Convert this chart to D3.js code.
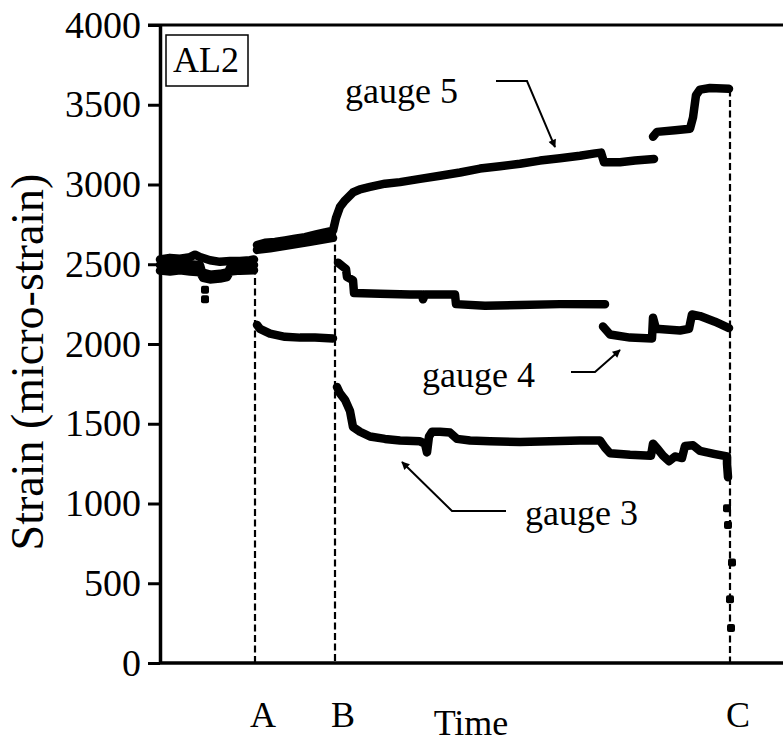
<!DOCTYPE html>
<html>
<head>
<meta charset="utf-8">
<script src="https://cdn.jsdelivr.net/npm/d3@7"></script>
<style>
  body { margin: 0; background: #fff; }
  svg { display: block; }
  text { font-family: "Liberation Serif", "Times New Roman", serif; fill: #000; }
</style>
</head>
<body>
<svg id="chart" width="783" height="742"></svg>
<script>
// Strain readings, [time, micro-strain]; a null reading marks a break in the record
const gauge5 = [
  [0,2530],[2,2540],[4,2535],[6,2545],[7,2560],[8,2545],[10,2525],[12,2515],[14,2520],[16,2520],[18,2525],[18.8,2530],
  [19,null],
  [19.4,2620],[21,2635],[23,2640],[25,2650],[27,2660],[29,2670],[31,2685],[33,2700],[34.6,2710],
  [35.2,2790],[36,2860],[37,2900],[38.6,2950],[40,2970],[42,2985],[45,3005],[48,3015],[52,3035],[56,3055],
  [60,3075],[64,3100],[68,3115],[72,3130],[76,3150],[80,3165],[84,3180],[87,3195],[88.2,3200],
  [88.8,3140],[92,3140],[95,3150],[98.8,3160],
  [98.9,null],
  [98.6,3300],[99.4,3330],[103,3340],[106,3350],[106.6,3420],[107.2,3560],[108,3595],[110,3605],[113.8,3600]
];
const gauge4 = [
  [0,2495],[2,2500],[4,2495],[6,2500],[8,2495],[8.4,2450],[10,2435],[12,2440],[13.6,2450],[14.2,2490],[16,2492],[18.8,2495],
  [19,null],
  [19.4,2590],[22,2600],[26,2620],[30,2640],[34.6,2665],
  [35,null],
  [35.6,2510],[36.4,2490],[37.2,2470],[37.4,2420],[38.6,2400],[38.8,2320],[44,2315],[50,2310],[52.4,2310],[52.6,2280],[53,2310],[59,2310],
  [59.2,2250],[65,2240],[72,2245],[80,2250],[89,2250],
  [89.1,null],
  [88.6,2110],[90,2060],[94,2040],[98.4,2035],[98.6,2165],[99.2,2095],[104,2085],[105.8,2095],
  [106.4,2185],[108,2175],[111,2140],[113.8,2100]
];
const gauge3 = [
  [0,2460],[2,2455],[4,2462],[6,2455],[8,2450],[8.6,2415],[10,2405],[12,2410],[13.4,2420],[14,2455],[16,2460],[18.8,2462],
  [19,null],
  [19.4,2120],[20,2095],[22,2065],[25,2045],[28,2040],[31,2040],[34.6,2035],
  [35,null],
  [35.4,1730],[36,1690],[37,1650],[38,1580],[38.6,1480],[40,1450],[42,1420],[45,1405],[48,1395],[52,1390],
  [53,1375],[53.4,1320],[53.8,1420],[54.4,1450],[56,1450],[58,1445],[59.4,1405],[62,1395],[66,1390],
  [72,1385],[78,1390],[84,1395],[88,1395],[89,1350],[90,1315],[94,1305],[98.2,1300],
  [98.6,1375],[99.6,1340],[100.6,1300],[101.8,1265],[103,1295],[104.4,1285],[105,1360],[106.6,1365],
  [108,1330],[111,1310],[113.4,1295],[113.4,1250],[113.6,1165]
];
// isolated readings of gauge 3 (transients and failure at C)
const gauge3Spikes = [[9,2340],[9,2280],[113.4,970],[113.6,865],[114.4,630],[114,400],[114.2,220]];

// load events
const eventNames = ["A", "B", "C"];
const eventTimes = [19, 35, 114];
const eventTops  = [2480, 2690, 3595];

const yTicks = [0, 500, 1000, 1500, 2000, 2500, 3000, 3500, 4000];
const timeMax = 124.6;

const svg = d3.select("#chart");
const x = d3.scaleLinear().domain([0, timeMax]).range([160, 783]);
const y = d3.scaleLinear().domain([0, 4000]).range([663, 25]);

// event markers
eventNames.forEach((name, i) => {
  svg.append("line")
    .attr("x1", x(eventTimes[i])).attr("x2", x(eventTimes[i]))
    .attr("y1", y(eventTops[i])).attr("y2", y(0))
    .attr("stroke", "#000").attr("stroke-width", 2.2)
    .attr("stroke-dasharray", "7,3.5");
  svg.append("text")
    .attr("x", x(eventTimes[i]) + 8).attr("y", 727)
    .attr("text-anchor", "middle").attr("font-size", 36)
    .text(name);
});

// gauge traces
const line = d3.line().defined(d => d[1] != null).x(d => x(d[0])).y(d => y(d[1]));
[gauge3, gauge4, gauge5].forEach(series => {
  svg.append("path").datum(series)
    .attr("d", line)
    .attr("fill", "none").attr("stroke", "#000")
    .attr("stroke-width", 8.5)
    .attr("stroke-linejoin", "round").attr("stroke-linecap", "round");
});
svg.selectAll("rect.spike").data(gauge3Spikes).enter().append("rect")
  .attr("class", "spike")
  .attr("x", d => x(d[0]) - 4).attr("y", d => y(d[1]) - 4)
  .attr("width", 8).attr("height", 8).attr("rx", 2).attr("fill", "#000");

// axes
const yAxis = d3.axisLeft(y).tickValues(yTicks).tickFormat(d3.format("d"))
  .tickSize(12).tickSizeOuter(0).tickPadding(7);
const gy = svg.append("g").attr("transform", "translate(160,0)").call(yAxis);
gy.select(".domain").attr("stroke-width", 3.5);
gy.selectAll(".tick line").attr("stroke-width", 3);
gy.selectAll(".tick text").attr("font-size", 38)
  .attr("font-family", "Liberation Serif, serif").attr("fill", "#000");

svg.append("line").attr("x1", 160).attr("x2", 783).attr("y1", y(0)).attr("y2", y(0))
  .attr("stroke", "#000").attr("stroke-width", 3.5);
svg.append("line").attr("x1", 148).attr("x2", 783).attr("y1", y(4000)).attr("y2", y(4000))
  .attr("stroke", "#000").attr("stroke-width", 3);

// titles
svg.append("text").attr("x", 471).attr("y", 735).attr("text-anchor", "middle")
  .attr("font-size", 36).text("Time");
svg.append("text").attr("transform", "translate(43,362) rotate(-90)")
  .attr("text-anchor", "middle").attr("font-size", 46).text("Strain (micro-strain)");

// specimen tag
svg.append("rect").attr("x", 166).attr("y", 35).attr("width", 82).attr("height", 51)
  .attr("fill", "#fff").attr("stroke", "#000").attr("stroke-width", 1.5);
svg.append("text").attr("x", 173).attr("y", 72).attr("font-size", 36).text("AL2");

// gauge labels with leader arrows (positions in data units)
const labels = [
  { text: "gauge 5", at: [37, 3511], path: [[67.2, 3649], [73.4, 3649], [79, 3235]] },
  { text: "gauge 4", at: [52.4, 1730], path: [[82.2, 1824], [87, 1824], [92, 1962]] },
  { text: "gauge 3", at: [73, 865], path: [[69.2, 953], [58.4, 953], [48.4, 1260]] }
];
svg.append("defs").append("marker")
  .attr("id", "head").attr("viewBox", "0 0 10 10").attr("refX", 9).attr("refY", 5)
  .attr("markerWidth", 11).attr("markerHeight", 8).attr("markerUnits", "userSpaceOnUse")
  .attr("orient", "auto")
  .append("path").attr("d", "M0,0L10,5L0,10Z").attr("fill", "#000");
labels.forEach(l => {
  svg.append("text").attr("x", x(l.at[0])).attr("y", y(l.at[1]))
    .attr("font-size", 36).text(l.text);
  svg.append("path").datum(l.path).attr("d", line)
    .attr("fill", "none").attr("stroke", "#000").attr("stroke-width", 2)
    .attr("marker-end", "url(#head)");
});
</script>
</body>
</html>
